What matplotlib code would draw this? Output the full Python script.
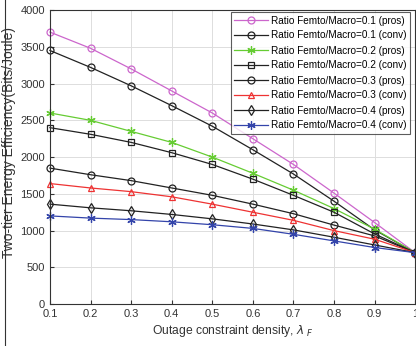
import numpy as np
import matplotlib.pyplot as plt
from matplotlib.lines import Line2D

plt.rcParams['font.family'] = ['Liberation Sans', 'DejaVu Sans']

# outage constraint density
x = [0.1, 0.2, 0.3, 0.4, 0.5, 0.6, 0.7, 0.8, 0.9, 1.0]

# energy efficiency values, one list per curve
ee_01_pros = [3700, 3480, 3200, 2900, 2600, 2250, 1900, 1510, 1110, 700]
ee_01_conv = [3450, 3220, 2970, 2700, 2420, 2100, 1770, 1400, 1010, 700]
ee_02_pros = [2600, 2500, 2350, 2200, 2000, 1780, 1550, 1300, 1020, 700]
ee_02_conv = [2400, 2310, 2200, 2060, 1900, 1700, 1480, 1250, 955, 700]
ee_03_pros = [1850, 1760, 1680, 1580, 1480, 1360, 1230, 1075, 928, 700]
ee_03_conv = [1640, 1580, 1530, 1460, 1360, 1250, 1140, 1000, 883, 700]
ee_04_pros = [1360, 1310, 1270, 1220, 1160, 1090, 1010, 910, 805, 700]
ee_04_conv = [1200, 1170, 1150, 1120, 1080, 1030, 950, 860, 770, 700]

labels = ['Ratio Femto/Macro=0.1 (pros)', 'Ratio Femto/Macro=0.1 (conv)',
          'Ratio Femto/Macro=0.2 (pros)', 'Ratio Femto/Macro=0.2 (conv)',
          'Ratio Femto/Macro=0.3 (pros)', 'Ratio Femto/Macro=0.3 (conv)',
          'Ratio Femto/Macro=0.4 (pros)', 'Ratio Femto/Macro=0.4 (conv)']

series = [ee_01_pros, ee_01_conv, ee_02_pros, ee_02_conv,
          ee_03_pros, ee_03_conv, ee_04_pros, ee_04_conv]
colors = ['#cc66cc', '#222222', '#66cc33', '#222222',
          '#222222', '#ee3333', '#222222', '#3344aa']
markers = ['o', 'o', (6, 2, 0), 's', 'o', '^', 'd', (6, 2, 0)]
msizes = [5, 5, 6, 4, 5, 5, 5, 6]

fig = plt.figure(figsize=(4.16, 3.46), dpi=100)
ax = fig.add_axes([0.12, 0.121, 0.878, 0.850])

for y, c, m, ms, lab in zip(series, colors, markers, msizes, labels):
    ax.plot(x, y, color=c, marker=m, markersize=ms, markerfacecolor='none',
            markeredgecolor=c, markeredgewidth=0.9, linewidth=0.9, label=lab,
            clip_on=False)

ax.set_xlim(0.1, 1.0)
ax.set_ylim(0, 4000)
ax.set_xticks(np.arange(0.1, 1.01, 0.1))
ax.set_xticklabels(['0.1', '0.2', '0.3', '0.4', '0.5', '0.6', '0.7', '0.8', '0.9', '1'])
ax.set_yticks(range(0, 4001, 500))
ax.tick_params(labelsize=8, direction='in', length=3, colors='#333333')
ax.grid(True, color='#dddddd', linewidth=0.7)
for s in ax.spines.values():
    s.set_color('#333333')

ax.set_xlabel(r'Outage constraint density, $\lambda$ $_{F}$', fontsize=8.7,
              color='#333333', labelpad=3)
ax.set_ylabel('Two-tier Energy Efficiency(Bits/Joule)', fontsize=10,
              color='#333333')
ax.yaxis.set_label_coords(-0.093, 0.55)

leg = ax.legend(loc='upper right', bbox_to_anchor=(410 / 416, 1 - 12 / 346),
                bbox_transform=fig.transFigure, fontsize=7.2, frameon=True,
                fancybox=False, edgecolor='#333333', borderaxespad=0,
                handlelength=3.4, labelspacing=0.5, borderpad=0.35,
                handletextpad=0.3)
leg.get_frame().set_linewidth(0.8)

fig.add_artist(Line2D([0.012, 0.012], [0.0, 1.0], color='#333333', linewidth=0.8,
                      transform=fig.transFigure))

plt.savefig('out.png', dpi=100)
